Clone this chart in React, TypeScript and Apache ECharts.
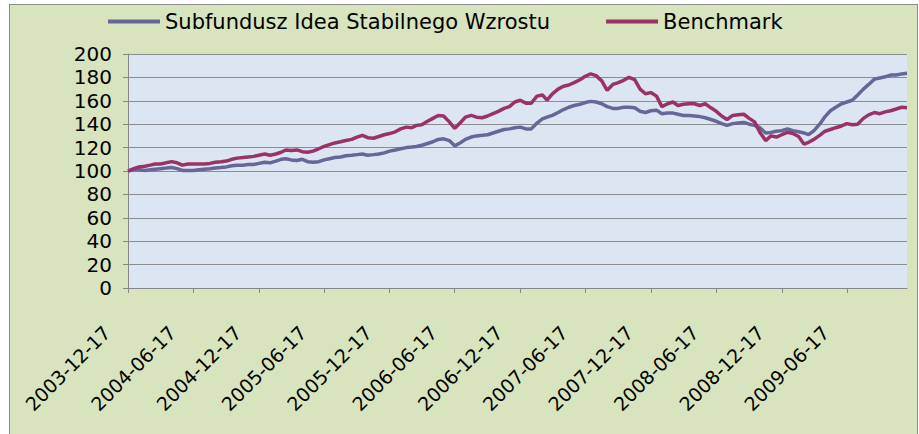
import React, { useEffect, useRef } from "react";
import * as echarts from "echarts";

const dates = [
  "2003-12-17",
  "2004-01-02", "2004-01-17", "2004-02-02", "2004-02-17", "2004-03-02", "2004-03-17",
  "2004-04-02", "2004-04-17", "2004-05-02", "2004-05-17", "2004-06-02", "2004-06-17",
  "2004-07-02", "2004-07-17", "2004-08-02", "2004-08-17", "2004-09-02", "2004-09-17",
  "2004-10-02", "2004-10-17", "2004-11-02", "2004-11-17", "2004-12-02", "2004-12-17",
  "2005-01-02", "2005-01-17", "2005-02-02", "2005-02-17", "2005-03-02", "2005-03-17",
  "2005-04-02", "2005-04-17", "2005-05-02", "2005-05-17", "2005-06-02", "2005-06-17",
  "2005-07-02", "2005-07-17", "2005-08-02", "2005-08-17", "2005-09-02", "2005-09-17",
  "2005-10-02", "2005-10-17", "2005-11-02", "2005-11-17", "2005-12-02", "2005-12-17",
  "2006-01-02", "2006-01-17", "2006-02-02", "2006-02-17", "2006-03-02", "2006-03-17",
  "2006-04-02", "2006-04-17", "2006-05-02", "2006-05-17", "2006-06-02", "2006-06-17",
  "2006-07-02", "2006-07-17", "2006-08-02", "2006-08-17", "2006-09-02", "2006-09-17",
  "2006-10-02", "2006-10-17", "2006-11-02", "2006-11-17", "2006-12-02", "2006-12-17",
  "2007-01-02", "2007-01-17", "2007-02-02", "2007-02-17", "2007-03-02", "2007-03-17",
  "2007-04-02", "2007-04-17", "2007-05-02", "2007-05-17", "2007-06-02", "2007-06-17",
  "2007-07-02", "2007-07-17", "2007-08-02", "2007-08-17", "2007-09-02", "2007-09-17",
  "2007-10-02", "2007-10-17", "2007-11-02", "2007-11-17", "2007-12-02", "2007-12-17",
  "2008-01-02", "2008-01-17", "2008-02-02", "2008-02-17", "2008-03-02", "2008-03-17",
  "2008-04-02", "2008-04-17", "2008-05-02", "2008-05-17", "2008-06-02", "2008-06-17",
  "2008-07-02", "2008-07-17", "2008-08-02", "2008-08-17", "2008-09-02", "2008-09-17",
  "2008-10-02", "2008-10-17", "2008-11-02", "2008-11-17", "2008-12-02", "2008-12-17",
  "2009-01-02", "2009-01-17", "2009-02-02", "2009-02-17", "2009-03-02", "2009-03-17",
  "2009-04-02", "2009-04-17", "2009-05-02", "2009-05-17", "2009-06-02", "2009-06-17",
  "2009-07-02", "2009-07-17", "2009-08-02", "2009-08-17", "2009-09-02", "2009-09-17",
  "2009-10-02", "2009-10-17", "2009-11-02", "2009-11-17", "2009-12-02",
];

const subfund = [
  100,
  101, 101, 100.5, 101, 101.5, 102, 102.5, 103, 102, 100.5, 100.5, 100.5,
  101, 101.5, 102, 102.5, 103, 103.5, 104.5, 105, 105, 105.5, 105.5, 106.5,
  107.5, 107, 108.5, 110, 110.5, 109.5, 109, 110, 108, 107.5, 108, 109.5,
  110.5, 111.5, 112, 113, 113.5, 114, 114.5, 113.5, 114, 114.5, 115.5, 117,
  118, 119, 120, 120.5, 121, 122, 123.5, 125, 127, 127.5, 126, 121.5,
  124, 127, 129, 130, 130.5, 131, 132.5, 134, 135.5, 136, 137, 137.5,
  136, 136, 141, 144.5, 146, 147.5, 150, 152.5, 154.5, 156, 157, 158.5,
  159.5, 159, 157.5, 155, 153.5, 153.5, 154.5, 154.5, 154, 151, 150, 151.5,
  152, 149, 149.5, 149.5, 148.5, 147.5, 147.5, 147, 146.5, 145.5, 144, 142.5,
  140.5, 139, 140.5, 141, 141.5, 140, 139, 137, 132.5, 133, 134, 134.5,
  136, 134.5, 133.5, 132.5, 131, 134.5, 140, 146.5, 151.5, 154.5, 157.5, 159,
  160.5, 165, 170, 174, 178.5, 179.5, 180.5, 182, 182, 183, 183.5,
];

const benchmark = [
  100,
  102, 103.5, 104, 105, 106, 106, 107, 108, 107, 105, 106, 106,
  106, 106, 106.5, 107.5, 108, 108.5, 110, 111, 111.5, 112, 112.5, 113.5,
  114.5, 113.5, 114.5, 116, 118, 117.5, 118, 116.5, 116, 117, 119, 121,
  122.5, 124, 125, 126, 127, 129, 130.5, 128.5, 128, 129.5, 131, 132,
  133.5, 136, 137.5, 137, 139, 139.5, 142.5, 145, 147.5, 147, 142, 136.5,
  141, 146, 147.5, 146, 145.5, 147, 149, 151, 153.5, 155, 159, 160.5,
  158, 158, 164, 165, 160.5, 166, 170, 172.5, 173.5, 175.5, 178, 181,
  183, 181.5, 177, 169, 174, 175.5, 177.5, 180, 178, 170, 166, 167,
  164, 155, 157.5, 159, 156, 157, 157.5, 157.5, 156, 157.5, 154, 151,
  147, 144, 147.5, 148, 148.5, 145, 142, 133, 126, 130, 129, 131,
  133, 132, 129.5, 123, 124.5, 127, 130.5, 134, 135.5, 137, 138.5, 140.5,
  139.5, 140, 145, 148, 150, 149, 150.5, 151.5, 153, 154.5, 154,
];

const tickLabels = [
  "2003-12-17", "2004-06-17", "2004-12-17", "2005-06-17", "2005-12-17", "2006-06-17",
  "2006-12-17", "2007-06-17", "2007-12-17", "2008-06-17", "2008-12-17", "2009-06-17",
];

const seriesNames = ["Subfundusz Idea Stabilnego Wzrostu", "Benchmark"];

const FONT = "'DejaVu Sans', Verdana, sans-serif";

// day number (UTC-based, timezone independent)
function dayNum(s: string): number {
  const [y, m, d] = s.split("-").map(Number);
  return Math.round(Date.UTC(y, m - 1, d) / 86400000);
}

export default function App() {
  const ref = useRef<HTMLDivElement>(null);
  useEffect(() => {
    if (!ref.current) return;
    const chart = echarts.init(ref.current, undefined, { renderer: "svg" });
    const base = dayNum(dates[0]);
    const xOf = (s: string) => dayNum(s) - base;
    const tickDays = tickLabels.map(xOf);
    const axisGray = "#868686";
    chart.setOption({
      animation: false,
      textStyle: { fontFamily: FONT },
      legend: {
        left: 108,
        top: 11,
        padding: 0,
        icon: "rect",
        itemWidth: 52,
        itemHeight: 4,
        itemGap: 56,
        textStyle: { fontSize: 21, color: "#000", fontFamily: FONT },
        data: seriesNames,
      },
      grid: {
        left: 128,
        top: 54,
        right: 12,
        bottom: 146,
        show: true,
        backgroundColor: "#DCE6F2",
        borderWidth: 0,
      },
      xAxis: {
        type: "value",
        min: 0,
        max: xOf(dates[dates.length - 1]),
        axisLine: { show: true, onZero: false, lineStyle: { color: axisGray } },
        axisTick: { show: true, customValues: tickDays, length: 5, lineStyle: { color: axisGray } },
        axisLabel: {
          customValues: tickDays,
          rotate: 45,
          margin: 20,
          padding: [0, 30, 0, 0],
          fontSize: 19,
          color: "#000",
          fontFamily: FONT,
          formatter: (v: number) => {
            const i = tickDays.indexOf(Math.round(v));
            return i >= 0 ? tickLabels[i] : "";
          },
        },
        splitLine: { show: false },
      },
      yAxis: {
        type: "value",
        min: 0,
        max: 200,
        interval: 20,
        axisLine: { show: true, lineStyle: { color: axisGray } },
        axisTick: { show: true, length: 5, lineStyle: { color: axisGray } },
        axisLabel: { fontSize: 20, color: "#000", margin: 16, fontFamily: FONT },
        splitLine: { show: true, lineStyle: { color: "#8C8C8C", width: 1 } },
      },
      series: [
        {
          name: seriesNames[0],
          type: "line",
          symbol: "none",
          data: dates.map((d, i) => [xOf(d), subfund[i]]),
          lineStyle: { width: 3.5, color: "#666699" },
          itemStyle: { color: "#666699" },
        },
        {
          name: seriesNames[1],
          type: "line",
          symbol: "none",
          data: dates.map((d, i) => [xOf(d), benchmark[i]]),
          lineStyle: { width: 3.5, color: "#993366" },
          itemStyle: { color: "#993366" },
        },
      ],
    });
    return () => chart.dispose();
  }, []);

  return (
    <div
      style={{
        position: "fixed",
        left: 0,
        top: 0,
        width: 919,
        height: 434,
        background: "#fff",
        overflow: "hidden",
      }}
    >
      <div
        style={{
          position: "absolute",
          left: 9,
          top: 4,
          width: 909,
          height: 440,
          boxSizing: "border-box",
          border: "1px solid #8C8C8C",
          background: "#D7E4BD",
        }}
      />
      <div
        ref={ref}
        style={{ position: "absolute", left: 0, top: 0, width: 919, height: 434 }}
      />
    </div>
  );
}
